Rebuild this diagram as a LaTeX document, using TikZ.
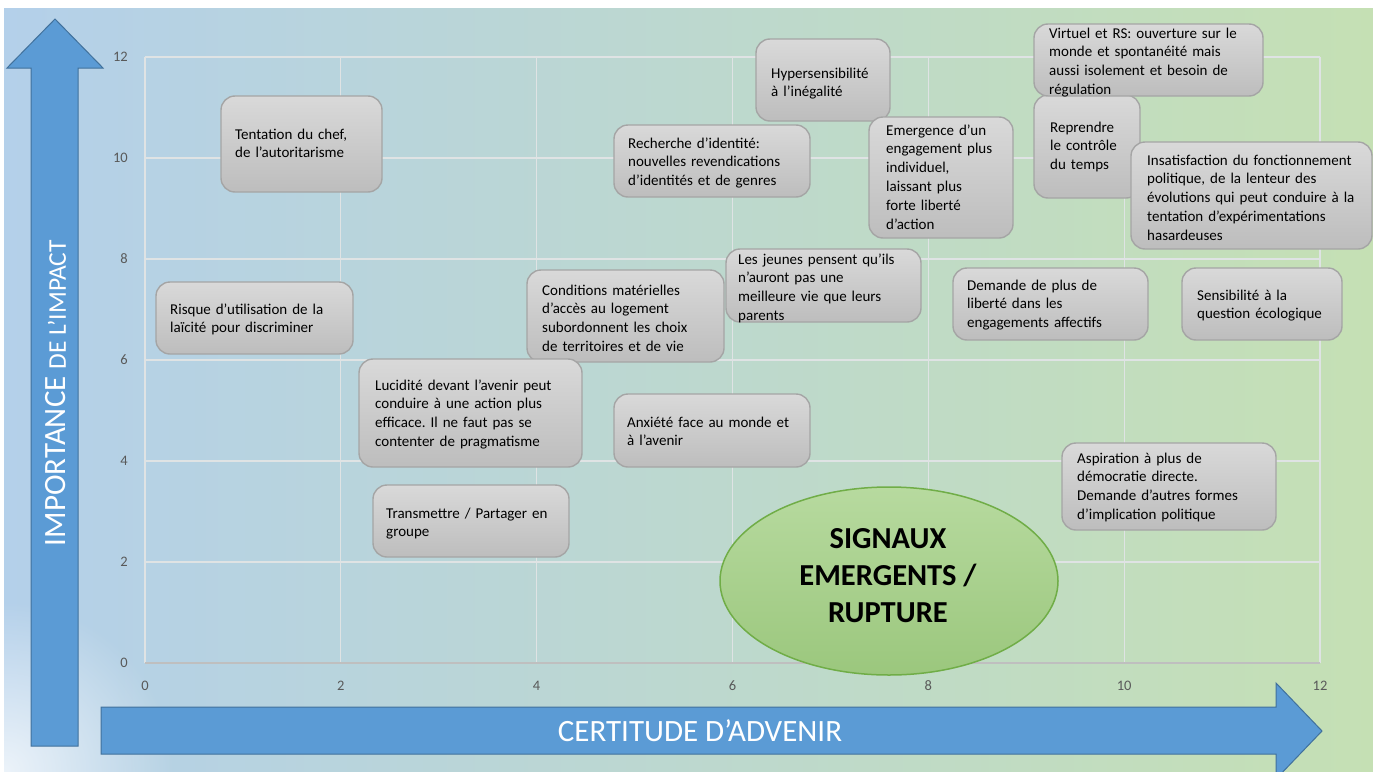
\documentclass[tikz,border=0pt]{standalone}
\usepackage{fontspec}
\setmainfont{Carlito}
\frenchspacing
\usetikzlibrary{shapes.geometric,fadings}
\definecolor{bgL}{HTML}{B4D0EA}
\definecolor{bgM}{HTML}{BCD8D9}
\definecolor{bgR}{HTML}{C5E0B4}
\definecolor{arrowfill}{HTML}{5B9BD5}
\definecolor{arrowline}{HTML}{41719C}
\definecolor{gridc}{HTML}{DFE3E4}
\definecolor{axisc}{HTML}{BFBFBF}
\definecolor{tickc}{HTML}{595959}
\definecolor{boxtop}{HTML}{D9D9D9}
\definecolor{boxbot}{HTML}{BDBDBD}
\definecolor{boxline}{HTML}{A5A5A5}
\definecolor{elltop}{HTML}{B7DA9F}
\definecolor{ellbot}{HTML}{9BC77D}
\definecolor{ellline}{HTML}{70AD47}
\tikzfading[name=glowfade, inner color=transparent!25, outer color=transparent!100]
\newcommand\gbox[8]{%
  \node[gboxstyle, minimum width={#4-#2}, minimum height={#5-#3}] (#1) at ({(#2+#4)/2},{(#3+#5)/2}) {};
  \node[btext, anchor=base west] (#1-t) at (#6,#7) {#8};
}
\begin{document}
\begin{tikzpicture}[x=1pt,y=-1pt,
  gboxstyle/.style={rectangle, rounded corners=14pt, inner sep=0pt, top color=boxtop, bottom color=boxbot, draw=boxline, line width=1.4pt},
  btext/.style={inner sep=0pt, text width=300pt, align=left, font=\fontsize{15}{18.8}\selectfont\frenchspacing, text=black},
  tick/.style={inner sep=0pt, text=tickc, font=\fontsize{14.5}{16}\selectfont},
  gridline/.style={draw=gridc, line width=1.3pt},
  bigarrow/.style={fill=arrowfill, draw=arrowline, line width=1pt},
  arrowtext/.style={inner sep=0pt, text=white}
]
\useasboundingbox (0,0) rectangle (1373,771);
\fill[white] (0,0) rectangle (1373,771);
\begin{scope}
  \clip (4,8) rectangle (1373,771);
  \shade[left color=bgL, middle color=bgM, right color=bgR] (4,8) rectangle (1373,771);
  \fill[white, path fading=glowfade] (4,771) circle (170);
\end{scope}

% grid
\foreach \i in {0,...,6} {
  \draw[gridline] ({145+\i*195.833},57) -- ({145+\i*195.833},663);
}
\foreach \j in {1,...,6} {
  \draw[gridline] (145,{663-\j*101}) -- (1320,{663-\j*101});
}
\draw[draw=axisc, line width=1.8pt] (145,663) -- (1320,663);

% tick labels
\foreach \v [count=\i from 0] in {0,2,4,6,8,10,12} {
  \node[tick, anchor=east] (yt\i) at (128,{663-\i*101}) {\v};
  \node[tick] (xt\i) at ({145+\i*195.833},686) {\v};
}

% arrows
\draw[bigarrow] (31,746) -- (31,68) -- (7,68) -- (55,19) -- (103,68) -- (78,68) -- (78,746) -- cycle;
\draw[bigarrow] (101,707) -- (1276,707) -- (1276,683) -- (1322,731) -- (1276,779) -- (1276,754) -- (101,754) -- cycle;
\node[arrowtext, rotate=90] (ylab) at (56,393) {\fontsize{31}{33}\selectfont IMPORTANCE {\fontsize{25.5}{27}\selectfont DE L’IMPACT}};
\node[arrowtext] (xlab) at (700,731) {\fontsize{31}{33}\selectfont CERTITUDE D’ADVENIR};

% ellipse
\node[ellipse, minimum width=338pt, minimum height=188pt, inner sep=0pt, top color=elltop, bottom color=ellbot, draw=ellline, line width=1.5pt] (sig) at (889,581) {};
\node[inner sep=0pt, align=center, font=\fontsize{30.5}{37}\selectfont\bfseries] (sigt) at (888,576) {SIGNAUX\\EMERGENTS /\\RUPTURE};

% boxes
\gbox{tentation}{221}{96}{382}{192}{235}{139}{Tentation du chef,\\de l’autoritarisme}
\gbox{risque}{156}{282}{353}{354}{170}{314}{Risque d’utilisation de la\\laïcité pour discriminer}
\gbox{hyper}{756}{39}{890}{121}{771}{78}{Hypersensibilité\\à l’inégalité}
\gbox{recherche}{614}{125}{810}{197}{628}{148}{Recherche d’identité:\\nouvelles revendications\\d’identités et de genres}
\gbox{emergence}{869}{117}{1013}{238}{886}{135}{Emergence d’un\\engagement plus\\individuel,\\laissant plus\\forte liberté\\d’action}
\gbox{reprendre}{1034}{95}{1140}{198}{1050}{132}{Reprendre\\le contrôle\\du temps}
\gbox{virtuel}{1034}{24}{1263}{96}{1049}{38}{Virtuel et RS: ouverture sur le\\monde et spontanéité mais\\aussi isolement et besoin de\\régulation}
\gbox{insat}{1131}{142}{1372}{249}{1147}{165}{Insatisfaction du fonctionnement\\politique, de la lenteur des\\évolutions qui peut conduire à la\\tentation d’expérimentations\\hasardeuses}
\gbox{demande}{953}{268}{1148}{340}{967}{290}{Demande de plus de\\liberté dans les\\engagements affectifs}
\gbox{sensib}{1182}{268}{1342}{340}{1197}{300}{Sensibilité à la\\question écologique}
\gbox{conditions}{527}{270}{724}{362}{542}{295}{Conditions matérielles\\d’accès au logement\\subordonnent les choix\\de territoires et de vie}
\gbox{jeunes}{726}{249}{921}{322}{738}{264}{Les jeunes pensent qu’ils\\n’auront pas une\\meilleure vie que leurs\\parents}
\gbox{lucidite}{359}{359}{582}{467}{375}{390}{Lucidité devant l’avenir peut\\conduire à une action plus\\efficace. Il ne faut pas se\\contenter de pragmatisme}
\gbox{anxiete}{614}{394}{810}{467}{627}{427}{Anxiété face au monde et\\à l’avenir}
\gbox{transmettre}{373}{485}{569}{557}{386}{518}{Transmettre / Partager en\\groupe}
\gbox{aspiration}{1062}{443}{1276}{530}{1077}{463}{Aspiration à plus de\\démocratie directe.\\Demande d’autres formes\\d’implication politique}
\end{tikzpicture}
\end{document}
